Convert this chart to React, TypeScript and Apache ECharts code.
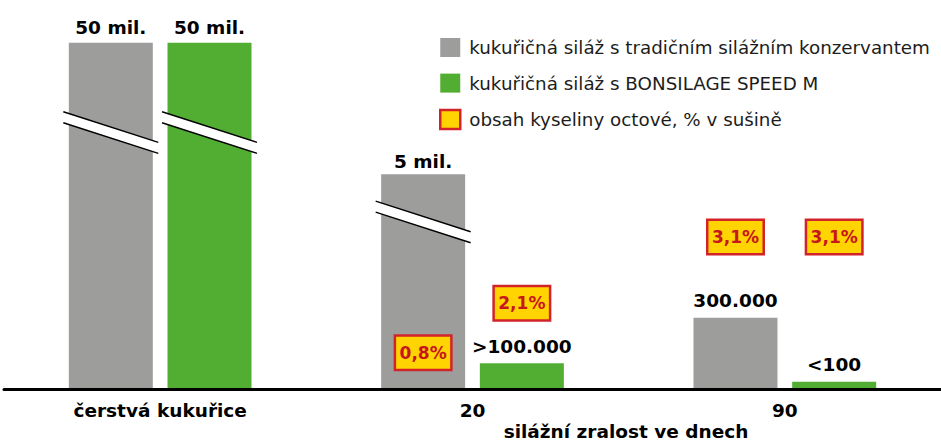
import React, { useEffect, useRef } from "react";
import * as echarts from "echarts";

const categories = ["čerstvá kukuřice", "20", "90"];
const seriesNames = [
  "kukuřičná siláž s tradičním silážním konzervantem",
  "kukuřičná siláž s BONSILAGE SPEED M",
  "obsah kyseliny octové, % v sušině",
];
// plotted (schematic, broken-scale) bar heights; 100 = full bar height
const traditionalHeights = [100, 62.1, 20.7];
const speedHeights = [100, 7.55, 2.25];
const traditionalLabels = ["50 mil.", "5 mil.", "300.000"];
const speedLabels = ["50 mil.", ">100.000", "<100"];
// acetic acid content (% in dry matter)
const acidCategory = [1, 1, 2, 2];
const acidBar = [0, 1, 0, 1];
const acidValues = [0.8, 2.1, 3.1, 3.1];
const acidLevels = [10.6, 24.9, 44.0, 44.0];
// axis break marks
const breakCategory = [0, 0, 1];
const breakBar = [0, 1, 0];
const breakLevels = [74.1, 74.1, 48.3];
const axisName = "silážní zralost ve dnech";

const GRAY = "#9d9d9c";
const GREEN = "#52ae32";
const YELLOW = "#ffd400";
const RED = "#d2232a";
const TEXT_RED = "#c8161d";
const BAR_W = 84;
const BAR_OFF = 49.35;
const tradDist = [5.6, 3.3, 7.3];
const speedDist = [5.6, 7.3, 7.3];

export default function App() {
  const ref = useRef<HTMLDivElement>(null);
  useEffect(() => {
    if (!ref.current) return;
    const chart = echarts.init(ref.current, null, { renderer: "svg" });
    const boldFont = { fontFamily: "DejaVu Sans", fontWeight: "bold" as const, fontSize: 18.5, color: "#000" };
    chart.setOption({
      animation: false,
      grid: { left: 4, width: 938, top: 42.7, bottom: 55.5, containLabel: false },
      legend: {
        orient: "vertical",
        left: 434,
        top: 32.5,
        itemWidth: 20,
        itemHeight: 19,
        itemGap: 15.6,
        icon: "rect",
        selectedMode: false,
        textStyle: { fontFamily: "DejaVu Sans", fontSize: 18.3, color: "#1d1d1b", lineHeight: 20, padding: [0, 0, 0, 4] },
        data: [
          { name: seriesNames[0] },
          { name: seriesNames[1] },
          { name: seriesNames[2], itemStyle: { color: YELLOW, borderColor: RED, borderWidth: 2.5 } },
        ],
      },
      xAxis: {
        type: "category",
        data: categories,
        z: 10,
        axisLine: { lineStyle: { color: "#000", width: 3 } },
        axisTick: { show: false },
        axisLabel: { ...boldFont, margin: 11 },
      },
      yAxis: { type: "value", min: 0, max: 100, show: false, splitLine: { show: false } },
      graphic: [
        {
          type: "text",
          x: 626,
          y: 431.2,
          style: { text: axisName, fill: "#000", font: "bold 18.5px 'DejaVu Sans'", align: "center", verticalAlign: "middle" },
        },
      ],
      series: [
        {
          name: seriesNames[0],
          type: "bar",
          barWidth: BAR_W,
          barGap: "17.5%",
          itemStyle: { color: GRAY },
          data: traditionalHeights.map((v, i) => ({
            value: v,
            label: { show: true, position: "top", distance: tradDist[i], formatter: traditionalLabels[i], ...boldFont },
          })),
        },
        {
          name: seriesNames[1],
          type: "bar",
          barWidth: BAR_W,
          barGap: "17.5%",
          itemStyle: { color: GREEN },
          data: speedHeights.map((v, i) => ({
            value: v,
            label: { show: true, position: "top", distance: speedDist[i], formatter: speedLabels[i], ...boldFont },
          })),
        },
        {
          name: "breaks",
          type: "custom",
          z: 5,
          silent: true,
          encode: { x: 0, y: 2 },
          data: breakLevels.map((lv, i) => [breakCategory[i], breakBar[i], lv]),
          renderItem: (params: any, api: any) => {
            const p = api.coord([api.value(0), api.value(2)]);
            const cx = p[0] + (api.value(1) === 0 ? -BAR_OFF : BAR_OFF);
            const cy = p[1];
            const hl = BAR_W / 2 + 5.5;
            const dy = hl * 0.322;
            const g = 5.5;
            return {
              type: "group",
              children: [
                {
                  type: "polygon",
                  shape: {
                    points: [
                      [cx - hl, cy - g - dy],
                      [cx + hl, cy - g + dy],
                      [cx + hl, cy + g + dy],
                      [cx - hl, cy + g - dy],
                    ],
                  },
                  style: { fill: "#fff" },
                },
                { type: "line", shape: { x1: cx - hl, y1: cy - g - dy, x2: cx + hl, y2: cy - g + dy }, style: { stroke: "#000", lineWidth: 1.4 } },
                { type: "line", shape: { x1: cx - hl, y1: cy + g - dy, x2: cx + hl, y2: cy + g + dy }, style: { stroke: "#000", lineWidth: 1.4 } },
              ],
            };
          },
        },
        {
          name: seriesNames[2],
          type: "custom",
          z: 6,
          itemStyle: { color: YELLOW, borderColor: RED, borderWidth: 2.5 },
          encode: { x: 0, y: 3 },
          data: acidValues.map((v, i) => [acidCategory[i], acidBar[i], v, acidLevels[i]]),
          renderItem: (params: any, api: any) => {
            const p = api.coord([api.value(0), api.value(3)]);
            const cx = p[0] + (api.value(1) === 0 ? -BAR_OFF : BAR_OFF);
            const cy = p[1];
            const w = 56.5;
            const h = 34.5;
            const txt = Number(api.value(2)).toFixed(1).replace(".", ",") + "%";
            return {
              type: "group",
              children: [
                { type: "rect", shape: { x: cx - w / 2, y: cy - h / 2, width: w, height: h }, style: { fill: YELLOW, stroke: RED, lineWidth: 2.5 } },
                {
                  type: "text",
                  x: cx,
                  y: cy,
                  style: { text: txt, fill: TEXT_RED, font: "bold 17px 'DejaVu Sans'", align: "center", verticalAlign: "middle" },
                },
              ],
            };
          },
        },
      ],
    });
    return () => chart.dispose();
  }, []);
  return <div ref={ref} style={{ position: "fixed", left: 0, top: 0, width: 941, height: 445, background: "#fff" }} />;
}
